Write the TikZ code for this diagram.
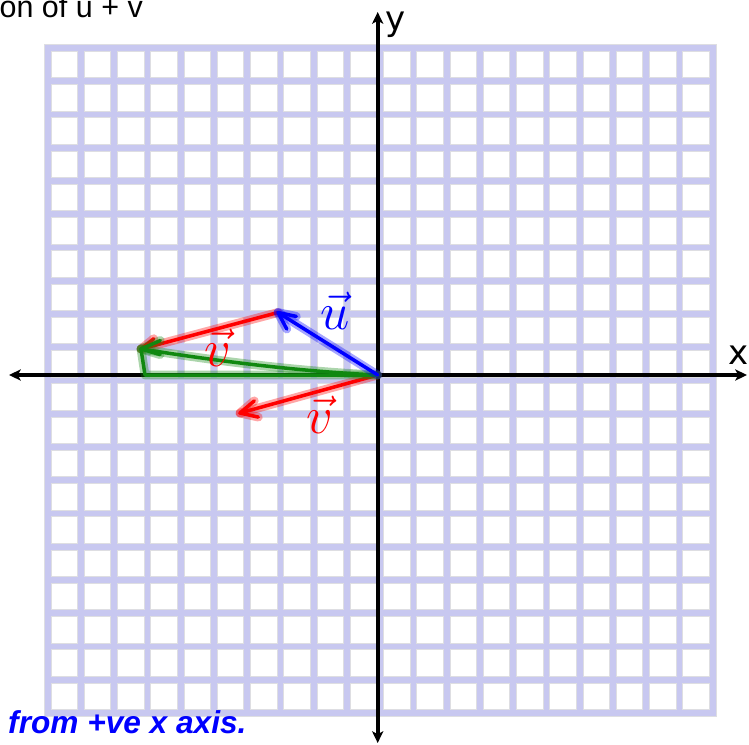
\documentclass[tikz,border=0pt]{standalone}
\usepackage{fontspec}
\setmainfont{DejaVu Sans}
\newfontfamily\notefont{Liberation Sans}
\usetikzlibrary{arrows.meta,calc}

\definecolor{gridblue}{RGB}{200,200,240}
\definecolor{cellrim}{RGB}{222,222,226}
\definecolor{inkred}{RGB}{255,0,0}
\definecolor{inkblue}{RGB}{0,0,255}
\definecolor{inkgreen}{RGB}{16,136,16}

\tikzset{
  gridline/.style={gridblue, line width=5pt, line cap=rect},
  gridrim/.style={cellrim, line width=6.6pt, line cap=rect},
  axis/.style={black, line width=3.3pt,
    {Stealth[length=10pt,width=9.5pt,inset=2.5pt]}-{Stealth[length=10pt,width=9.5pt,inset=2.5pt]}},
  ink/.style={#1, line width=3pt, line cap=round, line join=round,
    preaction={draw=#1, opacity=.35, line width=7.5pt, line cap=round, line join=round}},
  vlabel/.style={font=\fontsize{24.88}{25}\selectfont, scale=1.8, inner sep=0pt},
}

\begin{document}
\begin{tikzpicture}[x=0.03cm, y=-0.03cm]
  \useasboundingbox (0,0) rectangle (749,744);

  % grid
  \foreach \k in {0,...,20} {
    \draw[gridrim] ({47.8+33.25*\k},48) -- ({47.8+33.25*\k},713);
    \draw[gridrim] (47.8,{48+33.25*\k}) -- (712.8,{48+33.25*\k});
  }
  \foreach \k in {0,...,20} {
    \draw[gridline] ({47.8+33.25*\k},48) -- ({47.8+33.25*\k},713);
    \draw[gridline] (47.8,{48+33.25*\k}) -- (712.8,{48+33.25*\k});
  }

  % axes
  \coordinate (O)  at (377.7,375);
  \coordinate (xl) at (9,375);
  \coordinate (xr) at (747,375);
  \coordinate (yt) at (377.7,12);
  \coordinate (yb) at (377.7,743);
  \draw[axis] (xl) -- (xr);
  \draw[axis] (yb) -- (yt);
  \node[anchor=base, font=\fontsize{29}{29}\selectfont] (xlab) at (739,364) {x};
  \node[anchor=base west, inner sep=0pt, font=\fontsize{29}{29}\selectfont] (ylab) at (385,30) {y};

  \node[anchor=base east, inner sep=0pt, font=\notefont\fontsize{26}{28}\selectfont] (title) at (143,17) {on of u + v};

  % vectors
  \coordinate (U) at (278,312.5);
  \coordinate (S) at (141,349);
  \coordinate (V) at (240,413);
  \coordinate (F) at (145,375);

  % v from origin and v from tip of u
  \draw[ink=inkred] (O) -- (V);
  \draw[ink=inkred] ($(V)!16pt!25:(O)$) -- (V) -- ($(V)!16pt!-28:(O)$);
  \draw[ink=inkred] (U) -- (S);
  \draw[ink=inkred] ($(S)!14pt!24:(U)$) -- (S);

  % resultant
  \draw[ink=inkgreen] (O) .. controls (290,371) and (205,359) .. (S);
  \draw[ink=inkgreen] ($(S)!17pt!-10:(O)$) -- (S) -- ($(S)!18pt!30:(O)$);
  \draw[ink=inkgreen] (S) -- (F) -- (O);

  % u
  \draw[ink=inkblue] (O) -- (U);
  \draw[ink=inkblue] ($(U)!16pt!-30:(O)$) -- (U) -- ($(U)!16pt!20:(O)$);

  \node[vlabel, text=inkblue] (ulab) at (335,311) {$\vec{u}$};
  \node[vlabel, text=inkred] (vtop) at (218,348) {$\vec{v}$};
  \node[vlabel, text=inkred] (vbot) at (320,415) {$\vec{v}$};

  \node[anchor=base west, inner sep=0pt, text=inkblue,
        font=\notefont\bfseries\itshape\fontsize{27}{28}\selectfont] (note) at (8,733) {from +ve x axis.};
\end{tikzpicture}
\end{document}
